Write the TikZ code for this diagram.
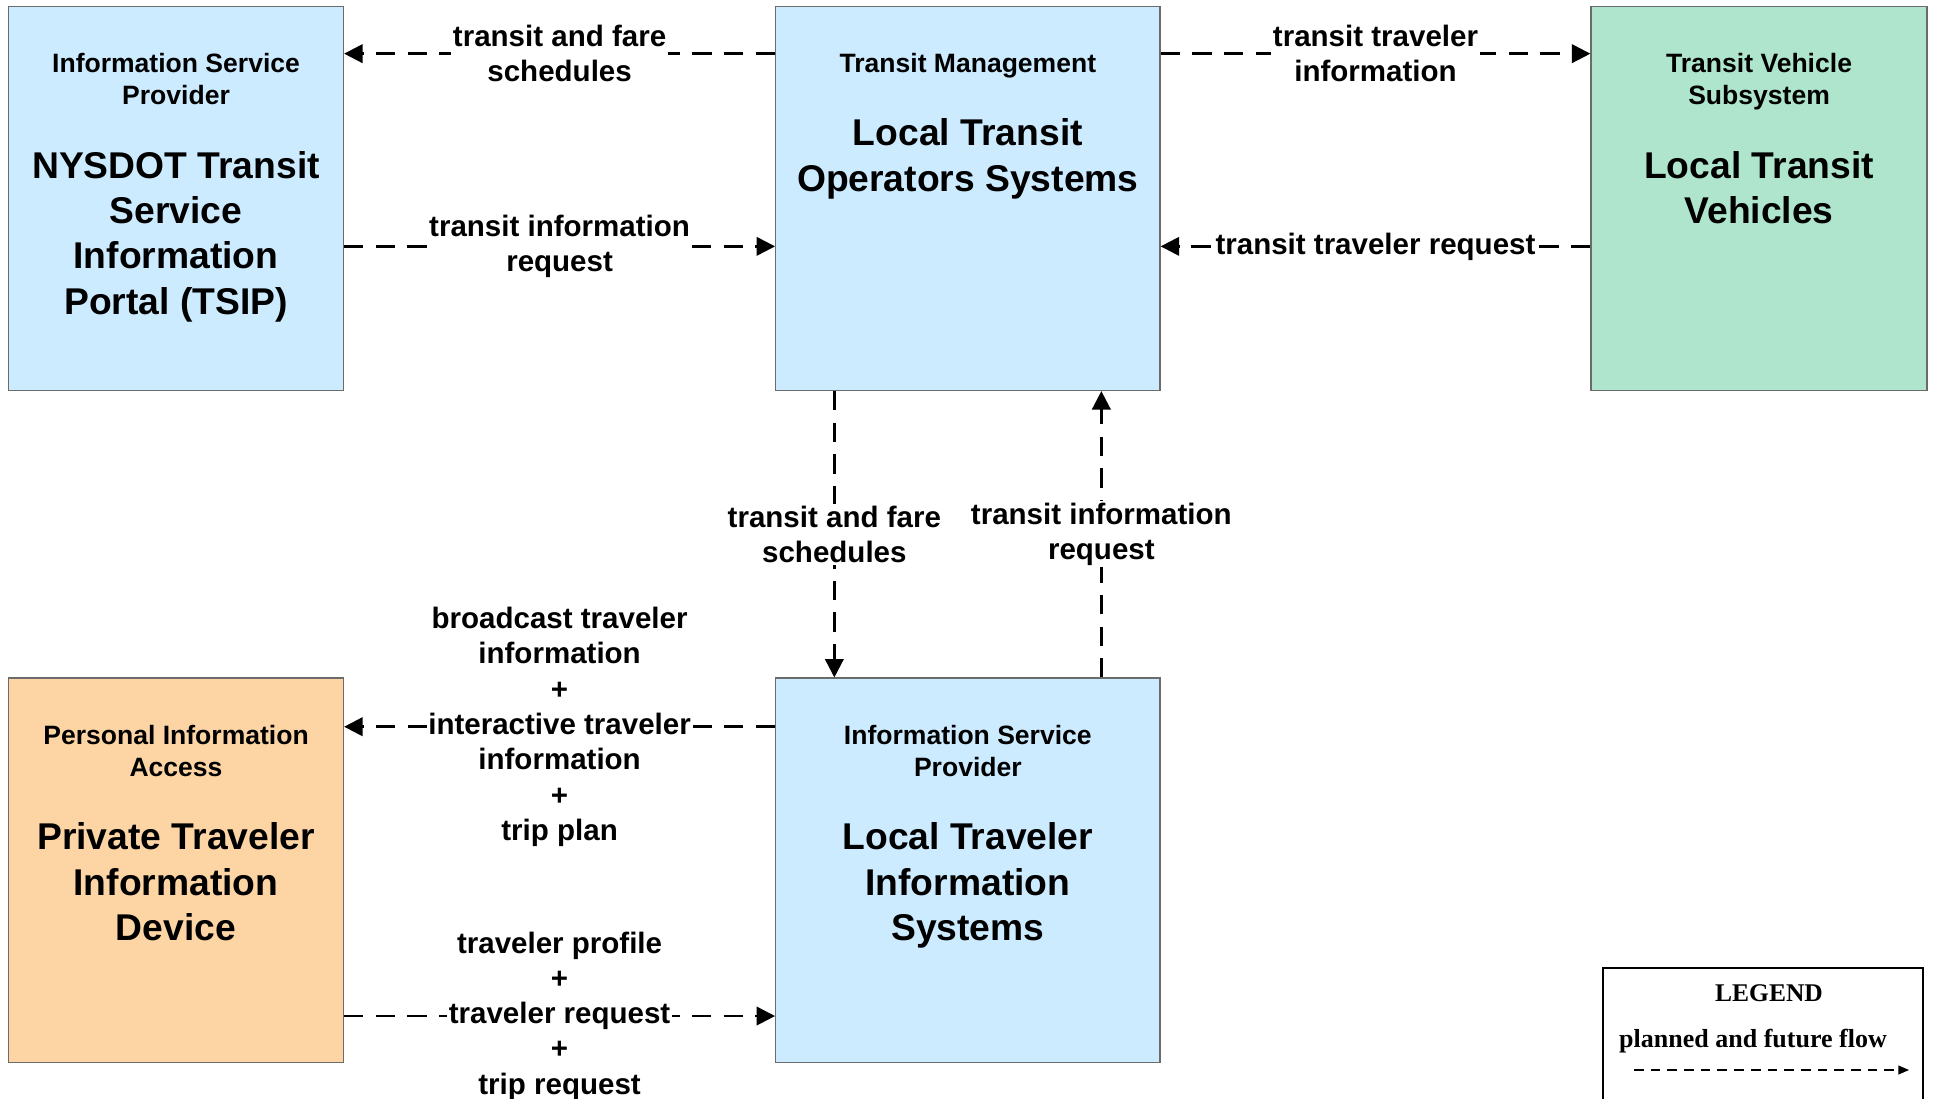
\documentclass[tikz,border=0pt]{standalone}
\usepackage{fontspec}
\setmainfont{Liberation Sans}
\newfontfamily\legendfont{Liberation Serif}
\usetikzlibrary{arrows.meta,positioning}
\definecolor{ccebff}{rgb}{0.8,0.922,1.}
\definecolor{aee5cc}{rgb}{0.682,0.898,0.8}
\definecolor{fdd5a5}{rgb}{0.992,0.835,0.647}
\definecolor{boxgray}{rgb}{0.42,0.42,0.42}

\tikzset{
  sysbox/.style={draw=boxgray,line width=0.8pt,inner sep=0pt,minimum height=7.683cm},
  classtxt/.style={inner sep=0pt,align=center,text depth=3.2pt,font=\fontsize{15.1}{18.3}\selectfont\bfseries},
  nametxt/.style={inner sep=0pt,align=center,font=\fontsize{21.2}{25.8}\selectfont\bfseries},
  flowlbl/.style={fill=white,inner sep=1pt,align=center,font=\fontsize{16.8}{20.1}\selectfont\bfseries},
  flow/.style={line width=1.4pt,dash pattern=on 11pt off 7pt,-{Triangle[length=10.5pt,width=10.5pt]}},
  legendflow/.style={line width=0.8pt,dash pattern=on 5.5pt off 4pt,-{Triangle[length=6pt,width=5pt]}}
}

\begin{document}
\begin{tikzpicture}[line join=miter,x=1.0cm,y=1.0cm]
\useasboundingbox (0.,0.) rectangle (38.74,-21.98);
% systems
\node[sysbox,fill=ccebff,minimum width=6.695cm] (tsip) at (3.521,-3.966) {};
\node[sysbox,fill=ccebff,minimum width=7.684cm] (lto) at (19.357,-3.966) {};
\node[sysbox,fill=aee5cc,minimum width=6.72cm] (ltv) at (35.181,-3.966) {};
\node[sysbox,fill=fdd5a5,minimum width=6.695cm] (ptid) at (3.521,-17.405) {};
\node[sysbox,fill=ccebff,minimum width=7.684cm] (ltis) at (19.357,-17.405) {};
% system texts
\node[classtxt,below=0.949cm of tsip.north] (tsiphd) {Information Service\\Provider};
\node[nametxt,below=0.80cm of tsiphd] (tsipnm) {NYSDOT Transit\\Service\\Information\\Portal (TSIP)};
\node[classtxt,below=0.949cm of lto.north] (ltohd) {Transit Management};
\node[nametxt,below=0.80cm of ltohd] (ltonm) {Local Transit\\Operators Systems};
\node[classtxt,below=0.949cm of ltv.north] (ltvhd) {Transit Vehicle\\Subsystem};
\node[nametxt,below=0.80cm of ltvhd] (ltvnm) {Local Transit\\Vehicles};
\node[classtxt,below=0.949cm of ptid.north] (ptidhd) {Personal Information\\Access};
\node[nametxt,below=0.80cm of ptidhd] (ptidnm) {Private Traveler\\Information\\Device};
\node[classtxt,below=0.949cm of ltis.north] (ltishd) {Information Service\\Provider};
\node[nametxt,below=0.80cm of ltishd] (ltisnm) {Local Traveler\\Information\\Systems};
% flows
\draw[flow] ([yshift=-0.963cm]lto.north west) -- ([yshift=-0.963cm]tsip.north east) node[flowlbl,midway] {transit and fare\\schedules};
\draw[flow] ([yshift=-4.817cm]tsip.north east) -- ([yshift=-4.817cm]lto.north west) node[flowlbl,midway] {transit information\\request};
\draw[flow] ([yshift=-0.963cm]lto.north east) -- ([yshift=-0.963cm]ltv.north west) node[flowlbl,midway] {transit traveler\\information};
\draw[flow] ([yshift=-4.817cm]ltv.north west) -- ([yshift=-4.817cm]lto.north east) node[flowlbl,midway] {transit traveler request};
\draw[flow] ([xshift=1.186cm]lto.south west) -- ([xshift=1.186cm]ltis.north west) node[flowlbl,midway] {transit and fare\\schedules};
\draw[flow] ([xshift=-1.186cm]ltis.north east) -- ([xshift=-1.186cm]lto.south east) node[flowlbl,midway] {transit information\\request};
\draw[flow] ([yshift=-0.985cm]ltis.north west) -- ([yshift=-0.985cm]ptid.north east) node[flowlbl,midway] {broadcast traveler\\information\\+\\interactive traveler\\information\\+\\trip plan};
\draw[flow] ([yshift=0.94cm]ptid.south east) -- ([yshift=0.94cm]ltis.south west) node[flowlbl,midway] {traveler profile\\+\\traveler request\\+\\trip request};
% legend
\node[draw=black,line width=1.2pt,minimum width=6.4cm,minimum height=3.64cm] (legend) at (35.26,-21.18) {};
\node[font=\legendfont\fontsize{14.5}{17}\selectfont\bfseries] (lgtitle) at (35.38,-19.86) {LEGEND};
\node[font=\legendfont\fontsize{14.8}{17}\selectfont\bfseries] (lgtext) at (35.06,-20.82) {planned and future flow};
\coordinate (lgs) at (32.68,-21.4);
\coordinate (lge) at (38.18,-21.4);
\draw[legendflow] (lgs) -- (lge);
\end{tikzpicture}
\end{document}
